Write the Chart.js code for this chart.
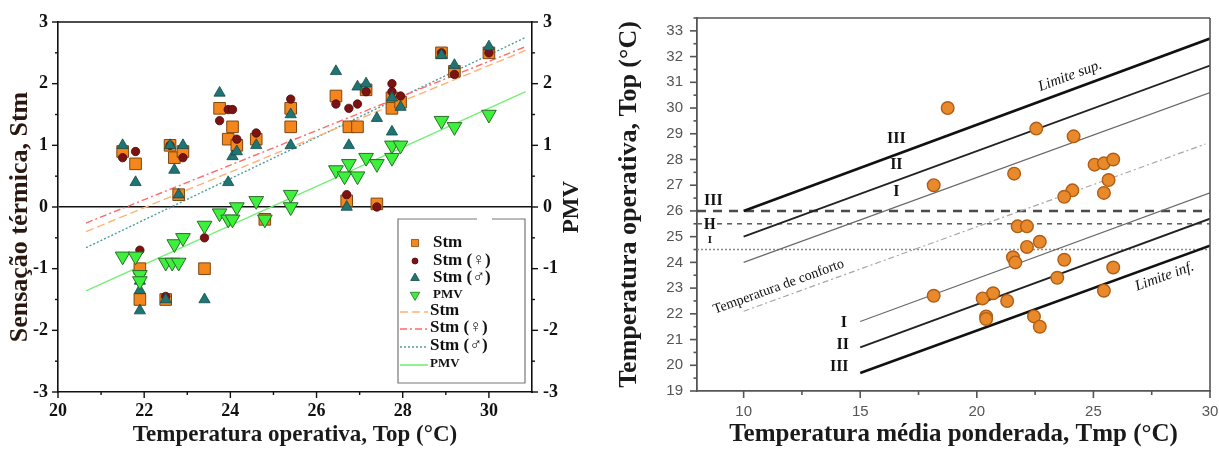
<!DOCTYPE html>
<html>
<head>
<meta charset="utf-8">
<script src="https://cdn.jsdelivr.net/npm/chart.js@4.4.1/dist/chart.umd.min.js"></script>
<style>
  html, body { margin: 0; padding: 0; background: #fff; }
  #wrap { position: relative; width: 1219px; height: 451px; overflow: hidden; background: #fff; }
  #left { position: absolute; left: 0; top: 0; }
  #right { position: absolute; left: 600px; top: 0; }
</style>
</head>
<body>
<div id="wrap">
  <canvas id="left" width="600" height="451"></canvas>
  <canvas id="right" width="619" height="451"></canvas>
</div>
<script>
// ---- left panel: thermal sensation (Stm) and PMV vs operative temperature ----
const stmX = [21.5, 21.8, 21.9, 21.9, 22.5, 22.6, 22.7, 22.8, 22.9, 23.4, 23.75, 23.95, 24.05, 24.15, 24.6, 24.8, 25.4, 25.4, 26.45, 26.7, 26.75, 26.95, 27.15, 27.4, 27.75, 27.75, 27.95, 28.9, 29.2, 30.0];
const stmY = [0.9, 0.7, -1.0, -1.5, -1.5, 1.0, 0.8, 0.2, 0.9, -1.0, 1.6, 1.1, 1.3, 1.0, 1.1, -0.2, 1.6, 1.3, 1.8, 0.1, 1.3, 1.3, 1.9, 0.05, 1.77, 1.6, 1.7, 2.5, 2.2, 2.5];

const femX = [21.5, 21.8, 21.9, 22.5, 22.6, 22.9, 23.4, 23.75, 23.95, 24.05, 24.15, 24.6, 25.4, 26.45, 26.7, 26.75, 26.95, 27.15, 27.4, 27.75, 27.75, 27.95, 28.9, 29.2, 30.0];
const femY = [0.8, 0.9, -0.7, -1.45, 1.0, 0.8, -0.5, 1.4, 1.58, 1.58, 1.1, 1.2, 1.75, 1.67, 0.2, 1.6, 1.67, 1.87, 0.0, 2.0, 1.87, 1.8, 2.5, 2.15, 2.5];

const maleX = [21.5, 21.8, 21.9, 21.9, 21.9, 22.5, 22.6, 22.7, 22.8, 22.9, 23.4, 23.75, 23.95, 24.05, 24.15, 24.6, 25.4, 25.4, 26.45, 26.7, 26.75, 26.95, 27.15, 27.4, 27.75, 27.75, 27.95, 28.9, 29.2, 30.0];
const maleY = [1.0, 0.4, -1.2, -1.35, -1.68, -1.5, 1.0, 0.6, 0.2, 1.0, -1.5, 1.85, 0.4, 0.82, 0.9, 1.0, 1.5, 1.0, 2.2, 0.0, 1.0, 1.95, 2.0, 1.44, 1.22, 1.77, 1.62, 2.46, 2.3, 2.6];

const pmvX = [21.5, 21.8, 21.9, 21.9, 22.5, 22.65, 22.8, 22.7, 22.9, 23.4, 23.75, 23.95, 24.05, 24.15, 24.6, 24.8, 25.4, 25.4, 26.45, 26.65, 26.75, 26.95, 27.15, 27.4, 27.75, 27.75, 27.95, 28.9, 29.2, 30.0];
const pmvY = [-0.8, -0.8, -1.1, -1.2, -0.9, -0.9, -0.9, -0.6, -0.5, -0.3, -0.1, -0.2, -0.2, 0.0, 0.1, -0.2, 0.2, 0.0, 0.6, 0.5, 0.7, 0.5, 0.8, 0.7, 0.8, 1.0, 1.0, 1.4, 1.3, 1.5];

// linear fits (end points)
const fitX = [20.65, 30.85];
const stmFit = [-0.4, 2.54];
const femFit = [-0.26, 2.6];
const maleFit = [-0.66, 2.75];
const pmvFit = [-1.36, 1.87];

const leftXTicks = [20, 22, 24, 26, 28, 30];
const leftYTicks = [-3, -2, -1, 0, 1, 2, 3];

// ---- right panel: operative temperature vs running mean temperature ----
const tmpX = [18.75, 22.55, 24.15, 18.15, 21.6, 25.05, 25.45, 25.85, 25.65, 25.45, 24.1, 23.75, 21.75, 22.15, 22.15, 22.7, 21.55, 21.65, 23.75, 23.45, 25.85, 25.45, 18.15, 20.25, 20.7, 21.3, 20.4, 20.4, 22.45, 22.7];
const topY = [30.0, 29.2, 28.9, 27.0, 27.45, 27.8, 27.85, 28.0, 27.2, 26.7, 26.8, 26.55, 25.4, 25.4, 24.6, 24.8, 24.2, 24.0, 24.1, 23.4, 23.8, 22.9, 22.7, 22.6, 22.8, 22.5, 21.9, 21.8, 21.9, 21.5];

const upperX = [10, 30];
const upperIII = [26.0, 32.7];
const upperII = [25.0, 31.65];
const upperI = [24.0, 30.6];
const comfortX = [10, 29.8];
const comfortY = [22.1, 28.6];
const lowerX = [15, 30];
const lowerI = [21.7, 26.7];
const lowerII = [20.7, 25.7];
const lowerIII = [19.7, 24.65];
const flatX = [8, 30];
const flatIII = [26, 26];
const flatII = [25.5, 25.5];
const flatI = [24.5, 24.5];

const rightXTicks = [10, 15, 20, 25, 30];

const SERIF = '"Liberation Serif", "Times New Roman", serif';
const SANS = '"Liberation Sans", Arial, sans-serif';

function pts(xs, ys) {
  return xs.map((x, i) => ({ x: x, y: ys[i] }));
}

// keep the plot area where the layout padding puts it
function noEdgePadding(s) {
  s.paddingLeft = 0;
  s.paddingRight = 0;
  s.paddingTop = 0;
  s.paddingBottom = 0;
}

/**
 * Draw tick marks (major + minor) outside the axes, plus an optional frame
 */
const axisMarks = {
  id: 'axisMarks',
  afterDraw(chart, args, opts) {
    const ctx = chart.ctx;
    const a = chart.chartArea;
    ctx.save();
    ctx.strokeStyle = opts.color;
    ctx.lineWidth = opts.width;
    (opts.marks || []).forEach(m => {
      const s = chart.scales[m.scale];
      for (let v = m.from; v <= m.to + 1e-9; v += m.step) {
        const p = s.getPixelForValue(v);
        ctx.beginPath();
        if (m.side === 'bottom') { ctx.moveTo(p, a.bottom); ctx.lineTo(p, a.bottom + m.len); }
        if (m.side === 'left') { ctx.moveTo(a.left, p); ctx.lineTo(a.left - m.len, p); }
        if (m.side === 'right') { ctx.moveTo(a.right, p); ctx.lineTo(a.right + m.len, p); }
        ctx.stroke();
      }
    });
    // frame sides not covered by scale borders
    (opts.frame || []).forEach(side => {
      ctx.beginPath();
      if (side === 'top') { ctx.moveTo(a.left, a.top); ctx.lineTo(a.right, a.top); }
      if (side === 'right') { ctx.moveTo(a.right, a.top); ctx.lineTo(a.right, a.bottom); }
      ctx.stroke();
    });
    ctx.restore();
  }
};

/**
 * Boxed legend inside the left plot, plus the two rotated y titles
 */
const boxLegend = {
  id: 'boxLegend',
  afterDraw(chart) {
    const ctx = chart.ctx;
    const a = chart.chartArea;
    const L = a.right - 134, R = a.right - 7, T = a.top + 197, B = a.top + 361;
    ctx.save();
    ctx.fillStyle = '#fff';
    ctx.fillRect(L, T, R - L, B - T);
    ctx.strokeStyle = '#777';
    ctx.lineWidth = 1.2;
    ctx.beginPath();
    ctx.moveTo(L + 79, T); ctx.lineTo(L, T); ctx.lineTo(L, B); ctx.lineTo(R, B); ctx.lineTo(R, T); ctx.lineTo(L + 94, T);
    ctx.stroke();

    const rows = [24, 42, 59, 76, 92, 109, 127, 145];
    chart.data.datasets.forEach((ds, i) => {
      const y = T + rows[i];
      if (ds.showLine) {
        ctx.save();
        ctx.strokeStyle = ds.borderColor;
        ctx.lineWidth = 1.6;
        ctx.setLineDash(ds.borderDash || []);
        ctx.beginPath();
        ctx.moveTo(L + 2, y + 1); ctx.lineTo(L + 30, y + 1);
        ctx.stroke();
        ctx.restore();
      } else {
        ctx.save();
        ctx.fillStyle = ds.backgroundColor;
        ctx.strokeStyle = ds.borderColor;
        ctx.lineWidth = 0.8;
        Chart.helpers.drawPoint(ctx, {
          pointStyle: ds.pointStyle,
          radius: ds.legendRadius,
          rotation: ds.rotation || 0,
          borderWidth: 0.8
        }, L + 17, y);
        ctx.restore();
      }
      const small = ds.label === 'PMV';
      ctx.fillStyle = '#111';
      ctx.font = 'bold ' + (small ? 13 : 17) + 'px ' + SERIF;
      ctx.textBaseline = 'middle';
      ctx.textAlign = 'left';
      ctx.fillText(ds.label, ds.showLine ? L + 32 : L + 35, y);
    });

    // y titles, both reading bottom to top
    ctx.textAlign = 'center';
    ctx.textBaseline = 'middle';
    ctx.save();
    ctx.translate(a.right + 40, (a.top + a.bottom) / 2);
    ctx.rotate(-Math.PI / 2);
    ctx.fillStyle = '#1a1a1a';
    ctx.font = 'bold 23px ' + SERIF;
    ctx.fillText('PMV', 0, 0);
    ctx.restore();
    ctx.save();
    ctx.translate(a.left - 38, (a.top + a.bottom) / 2 + 10);
    ctx.rotate(-Math.PI / 2);
    ctx.fillStyle = '#2a1710';
    ctx.font = 'bold 26px ' + SERIF;
    ctx.fillText('Sensação térmica, Stm', 0, 0);
    ctx.restore();
    ctx.restore();
  }
};

/**
 * Text labels placed in data units; rotated along a reference line when asked
 */
const dataLabels = {
  id: 'dataLabels',
  afterDatasetsDraw(chart, args, opts) {
    const ctx = chart.ctx;
    const xs = chart.scales.x, ys = chart.scales.y;
    ctx.save();
    (opts.items || []).forEach(it => {
      let ang = 0;
      if (it.along) {
        const dx = xs.getPixelForValue(it.along.x[1]) - xs.getPixelForValue(it.along.x[0]);
        const dy = ys.getPixelForValue(it.along.y[1]) - ys.getPixelForValue(it.along.y[0]);
        ang = Math.atan2(dy, dx);
      }
      ctx.save();
      ctx.translate(xs.getPixelForValue(it.x), ys.getPixelForValue(it.y));
      ctx.rotate(ang);
      ctx.font = it.font;
      ctx.fillStyle = it.color || '#111';
      ctx.textAlign = 'center';
      ctx.textBaseline = 'middle';
      ctx.fillText(it.text, 0, 0);
      ctx.restore();
    });
    ctx.restore();
  }
};

// ---------------- left chart ----------------
const fitLine = (label, ys, color, dash) => ({
  label: label,
  data: pts(fitX, ys),
  showLine: true,
  borderColor: color,
  borderWidth: 1.4,
  borderDash: dash,
  pointRadius: 0,
  order: 6
});

new Chart(document.getElementById('left'), {
  type: 'scatter',
  data: {
    datasets: [
      { label: 'Stm', data: pts(stmX, stmY), pointStyle: 'rect', pointRadius: 8.2, legendRadius: 5,
        backgroundColor: '#f5861c', borderColor: '#7d4612', borderWidth: 1, order: 4 },
      { label: 'Stm (♀)', data: pts(femX, femY), pointStyle: 'circle', pointRadius: 4.2, legendRadius: 3,
        backgroundColor: '#7c1313', borderColor: '#4a0808', borderWidth: 0.8, order: 3 },
      { label: 'Stm (♂)', data: pts(maleX, maleY), pointStyle: 'triangle', pointRadius: 6.5, legendRadius: 5,
        backgroundColor: '#1f7474', borderColor: '#144a4a', borderWidth: 0.8, order: 2 },
      { label: 'PMV', data: pts(pmvX, pmvY), pointStyle: 'triangle', rotation: 180, pointRadius: 8.5, legendRadius: 5.5,
        backgroundColor: '#3cf03c', borderColor: '#2a6e2a', borderWidth: 1, order: 1 },
      fitLine('Stm', stmFit, '#ffb273', [8, 4]),
      fitLine('Stm (♀)', femFit, '#ff6a6a', [7, 3, 2, 3]),
      fitLine('Stm (♂)', maleFit, '#4f9d9d', [2, 2]),
      fitLine('PMV', pmvFit, '#74f074', [])
    ]
  },
  options: {
    responsive: false,
    animation: false,
    events: [],
    layout: { padding: { top: 22, left: 0, right: 0, bottom: 0 } },
    plugins: {
      legend: { display: false },
      tooltip: { enabled: false },
      axisMarks: {
        color: '#111', width: 1.4,
        frame: ['top'],
        marks: [
          { scale: 'x', side: 'bottom', from: 20, to: 30, step: 2, len: 6 },
          { scale: 'x', side: 'bottom', from: 21, to: 29, step: 2, len: 3 },
          { scale: 'y', side: 'left', from: -3, to: 3, step: 1, len: 6 },
          { scale: 'y', side: 'left', from: -2.5, to: 2.5, step: 1, len: 3 },
          { scale: 'y2', side: 'right', from: -3, to: 3, step: 1, len: 6 },
          { scale: 'y2', side: 'right', from: -2.5, to: 2.5, step: 1, len: 3 }
        ]
      }
    },
    scales: {
      x: {
        type: 'linear', min: 20, max: 31,
        afterFit: s => { s.height = 59; noEdgePadding(s); },
        afterBuildTicks: s => { s.ticks = leftXTicks.map(v => ({ value: v })); },
        grid: { display: false, drawTicks: false },
        border: { display: true, color: '#111', width: 1.6 },
        ticks: { padding: 9, color: '#111', maxRotation: 0, autoSkip: false,
          font: { family: SERIF, size: 18, weight: 'bold' } },
        title: { display: true, text: 'Temperatura operativa, Top (°C)', color: '#1a1a1a',
          padding: { top: 0, bottom: 2 }, font: { family: SERIF, size: 23, weight: 'bold' } }
      },
      y: {
        type: 'linear', position: 'left', min: -3, max: 3,
        afterFit: s => { s.width = 58; noEdgePadding(s); },
        afterBuildTicks: s => { s.ticks = leftYTicks.map(v => ({ value: v })); },
        grid: { drawTicks: false, lineWidth: 1.6,
          color: c => (c.tick && c.tick.value === 0 ? '#111' : 'rgba(0,0,0,0)') },
        border: { display: true, color: '#111', width: 1.6 },
        ticks: { padding: 10, color: '#111', font: { family: SERIF, size: 18, weight: 'bold' } }
      },
      y2: {
        type: 'linear', position: 'right', min: -3, max: 3,
        afterFit: s => { s.width = 68; noEdgePadding(s); },
        afterBuildTicks: s => { s.ticks = leftYTicks.map(v => ({ value: v })); },
        grid: { display: false, drawTicks: false },
        border: { display: true, color: '#111', width: 1.6 },
        ticks: { padding: 11, color: '#111', font: { family: SERIF, size: 18, weight: 'bold' } }
      }
    }
  },
  plugins: [axisMarks, boxLegend]
});

// ---------------- right chart ----------------
const band = (ys, xs, color, width, dash) => ({
  data: pts(xs, ys),
  showLine: true,
  borderColor: color,
  borderWidth: width,
  borderDash: dash || [],
  pointRadius: 0,
  order: 5
});

new Chart(document.getElementById('right'), {
  type: 'scatter',
  data: {
    datasets: [
      { data: pts(tmpX, topY), pointStyle: 'circle', pointRadius: 6.3,
        backgroundColor: '#e8892c', borderColor: '#b15d14', borderWidth: 1.4, order: 1 },
      band(upperIII, upperX, '#111', 2.6),
      band(upperII, upperX, '#222', 1.9),
      band(upperI, upperX, '#6a6a6a', 1.2),
      band(comfortY, comfortX, '#a8a8a8', 1.2, [6, 3, 2, 3]),
      band(lowerI, lowerX, '#6a6a6a', 1.2),
      band(lowerII, lowerX, '#222', 1.9),
      band(lowerIII, lowerX, '#111', 2.6),
      band(flatIII, flatX, '#4a4a4a', 2.4, [9, 7]),
      band(flatII, flatX, '#5a5a5a', 1.5, [5, 5]),
      band(flatI, flatX, '#8a8a8a', 1.5, [2, 2])
    ]
  },
  options: {
    responsive: false,
    animation: false,
    events: [],
    layout: { padding: { top: 18, left: 0, right: 9, bottom: 0 } },
    plugins: {
      legend: { display: false },
      tooltip: { enabled: false },
      axisMarks: {
        color: '#555', width: 1.6,
        frame: ['top', 'right'],
        marks: [
          { scale: 'x', side: 'bottom', from: 10, to: 30, step: 5, len: 7 },
          { scale: 'x', side: 'bottom', from: 12.5, to: 27.5, step: 5, len: 4 },
          { scale: 'y', side: 'left', from: 19, to: 33, step: 1, len: 7 },
          { scale: 'y', side: 'left', from: 19.5, to: 33.5, step: 1, len: 3.5 }
        ]
      },
      dataLabels: {
        items: [
          { text: 'Limite sup.', x: 24.0, y: 31.25, along: { x: upperX, y: upperIII }, font: 'italic 15px ' + SERIF },
          { text: 'Limite inf.', x: 28.05, y: 23.45, along: { x: lowerX, y: lowerIII }, font: 'italic 15px ' + SERIF },
          { text: 'Temperatura de conforto', x: 11.5, y: 23.05, along: { x: comfortX, y: comfortY }, font: '14px ' + SERIF },
          { text: 'III', x: 16.55, y: 28.8, font: 'bold 16px ' + SERIF },
          { text: 'II', x: 16.55, y: 27.8, font: 'bold 16px ' + SERIF },
          { text: 'I', x: 16.55, y: 26.75, font: 'bold 16px ' + SERIF },
          { text: 'III', x: 8.7, y: 26.4, font: 'bold 16px ' + SERIF },
          { text: 'II', x: 8.55, y: 25.45, font: 'bold 16px ' + SERIF },
          { text: 'I', x: 8.55, y: 24.85, font: 'bold 11px ' + SERIF },
          { text: 'I', x: 14.3, y: 21.65, font: 'bold 16px ' + SERIF },
          { text: 'II', x: 14.25, y: 20.8, font: 'bold 16px ' + SERIF },
          { text: 'III', x: 14.1, y: 19.93, font: 'bold 16px ' + SERIF }
        ]
      }
    },
    scales: {
      x: {
        type: 'linear', min: 8, max: 30,
        afterFit: s => { s.height = 60; noEdgePadding(s); },
        afterBuildTicks: s => { s.ticks = rightXTicks.map(v => ({ value: v })); },
        grid: { display: false, drawTicks: false },
        border: { display: true, color: '#555', width: 1.8 },
        ticks: { padding: 12, color: '#555', maxRotation: 0, autoSkip: false,
          font: { family: SANS, size: 15 } },
        title: { display: true, text: 'Temperatura média ponderada, Tmp (°C)', color: '#1a1a1a',
          padding: { top: 0, bottom: 1 }, font: { family: SERIF, size: 25, weight: 'bold' } }
      },
      y: {
        type: 'linear', min: 19, max: 33.5,
        afterFit: s => { s.width = 97; noEdgePadding(s); },
        afterBuildTicks: s => {
          const t = [];
          for (let v = 19; v <= 33; v++) t.push({ value: v });
          s.ticks = t;
        },
        grid: { display: false, drawTicks: false },
        border: { display: true, color: '#555', width: 1.8 },
        ticks: { padding: 14, color: '#555', font: { family: SANS, size: 15 } },
        title: { display: true, text: 'Temperatura operativa, Top (°C)', color: '#1a1a1a',
          padding: { top: 14, bottom: 0 }, font: { family: SERIF, size: 26, weight: 'bold' } }
      }
    }
  },
  plugins: [axisMarks, dataLabels]
});
</script>
</body>
</html>
